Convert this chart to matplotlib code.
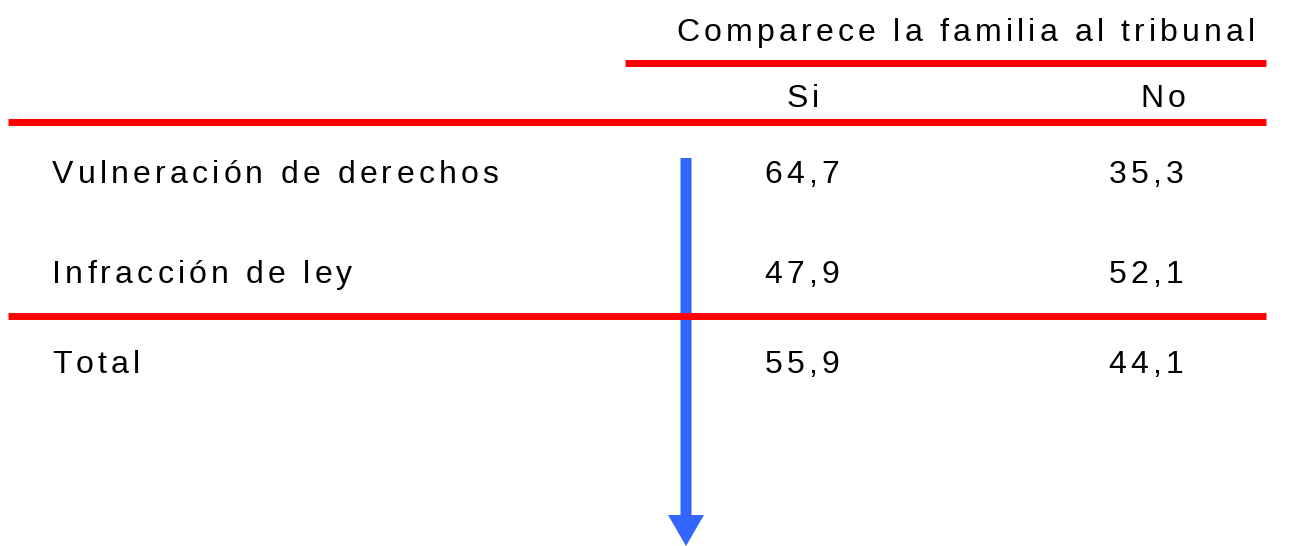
import matplotlib
matplotlib.use("Agg")
import matplotlib.pyplot as plt
from matplotlib import font_manager
from matplotlib.ft2font import FT2Font
from matplotlib.patches import FancyArrow

header = "Comparece la familia al tribunal"
columns = ["Si", "No"]
rows = ["Vulneración de derechos", "Infracción de ley", "Total"]
si_vals = [64.7, 47.9, 55.9]
no_vals = [35.3, 52.1, 44.1]

def fmt(v):
    return f"{v:.1f}".replace(".", ",")

DPI = 100
SIZE = 23
TRACK = 4.2   # extra pixels between letters, the original is spaced out

fig = plt.figure(figsize=(12.93, 5.46), dpi=DPI)
ax = fig.add_axes([0, 0, 1, 1])
ax.set_xlim(0, 1293)
ax.set_ylim(546, 0)
ax.axis("off")

prop = font_manager.FontProperties(family="Liberation Sans", size=SIZE)
ft = FT2Font(font_manager.findfont(prop))
ft.set_size(SIZE, DPI)

def advances(s):
    out = []
    for c in s:
        g = ft.load_char(ord(c))
        out.append(g.linearHoriAdvance / 65536)
    return out

def spaced_text(x, y, s, ha="left"):
    adv = advances(s)
    total = sum(adv) + TRACK * (len(s) - 1)
    if ha == "center":
        x = x - total / 2
    elif ha == "right":
        x = x - total
    for c, a in zip(s, adv):
        ax.text(x, y, c, ha="left", va="baseline", fontproperties=prop, color="black")
        x += a + TRACK

red = "#ff0000"
ax.plot([625, 1266], [63, 63], color=red, lw=5, solid_capstyle="butt")
ax.plot([8, 1266], [122, 122], color=red, lw=5, solid_capstyle="butt")
ax.plot([8, 1266], [316, 316], color=red, lw=5, solid_capstyle="butt")

ax.add_patch(FancyArrow(686, 158, 0, 388, width=11, head_width=36, head_length=31,
                        length_includes_head=True, color="#3366ff", lw=0))

spaced_text(966, 41, header, ha="center")
head_x = [803, 1163]
for x, c in zip(head_x, columns):
    spaced_text(x, 107, c, ha="center")

val_x = [802, 1146]
row_y = [183, 283, 373]
for y, name, s, n in zip(row_y, rows, si_vals, no_vals):
    spaced_text(52, y, name)
    spaced_text(val_x[0], y, fmt(s), ha="center")
    spaced_text(val_x[1], y, fmt(n), ha="center")

fig.savefig("out.png", dpi=DPI)
